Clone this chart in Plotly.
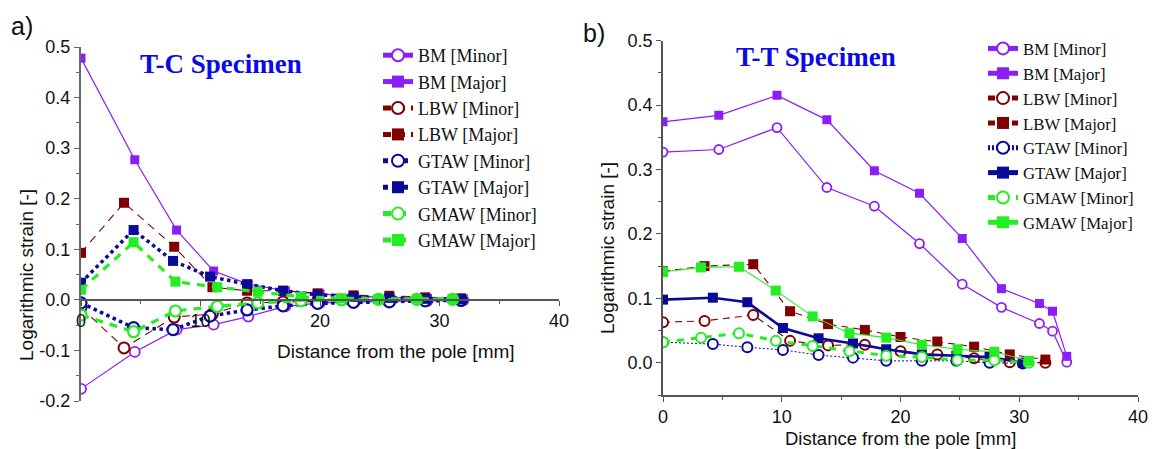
import plotly.graph_objects as go

# ---------------- Data: panel a) T-C specimen ----------------
a_bm_x = [0, 4.5, 8.0, 11.1, 14.0, 17.1, 20.0, 22.9, 25.8, 29.0, 32.0]
a_bm_minor = [-0.176, -0.103, -0.059, -0.049, -0.033, -0.013, -0.006, -0.004, -0.003, -0.002, -0.001]
a_bm_major = [0.478, 0.277, 0.138, 0.057, 0.031, 0.018, 0.012, 0.007, 0.005, 0.003, 0.002]

a_lbw_x = [0, 3.6, 7.8, 11.0, 13.9, 16.9, 19.8, 22.8, 25.8, 28.8, 31.8]
a_lbw_minor = [-0.015, -0.095, -0.034, -0.028, -0.006, -0.004, -0.003, -0.002, -0.002, -0.001, -0.001]
a_lbw_major = [0.093, 0.192, 0.105, 0.025, 0.018, 0.018, 0.013, 0.009, 0.008, 0.005, 0.003]

a_gtaw_x = [0, 4.4, 7.7, 10.8, 13.9, 16.9, 19.8, 22.8, 25.8, 28.8, 31.8]
a_gtaw_minor = [-0.006, -0.055, -0.059, -0.032, -0.020, -0.012, -0.007, -0.005, -0.004, -0.002, -0.001]
a_gtaw_major = [0.034, 0.138, 0.077, 0.046, 0.031, 0.018, 0.010, 0.006, 0.004, 0.002, 0.001]

a_gmaw_x = [0, 4.4, 7.9, 11.4, 14.8, 18.4, 21.8, 24.9, 28.1, 31.1]
a_gmaw_minor = [-0.030, -0.063, -0.022, -0.013, -0.006, -0.002, 0.000, 0.001, 0.001, 0.001]
a_gmaw_major = [0.020, 0.114, 0.036, 0.025, 0.016, 0.006, 0.003, 0.002, 0.002, 0.002]

# ---------------- Data: panel b) T-T specimen ----------------
b_bm_x = [0, 4.7, 9.6, 13.8, 17.8, 21.6, 25.2, 28.5, 31.7, 32.8, 34.0]
b_bm_minor = [0.327, 0.331, 0.365, 0.272, 0.243, 0.185, 0.122, 0.086, 0.061, 0.049, 0.001]
b_bm_major = [0.374, 0.384, 0.415, 0.377, 0.298, 0.263, 0.193, 0.115, 0.092, 0.080, 0.010]

b_lbw_x = [0, 3.5, 7.6, 10.7, 13.9, 17.0, 20.0, 23.1, 26.2, 29.2, 32.2]
b_lbw_minor = [0.063, 0.065, 0.074, 0.034, 0.027, 0.028, 0.018, 0.013, 0.007, 0.001, 0.000]
b_lbw_major = [0.142, 0.150, 0.153, 0.080, 0.060, 0.051, 0.040, 0.033, 0.025, 0.013, 0.005]

b_gtaw_x = [0, 4.2, 7.1, 10.1, 13.1, 16.0, 18.8, 21.8, 24.7, 27.5, 30.3]
b_gtaw_minor = [0.032, 0.029, 0.024, 0.020, 0.012, 0.008, 0.003, 0.003, 0.003, 0.000, -0.001]
b_gtaw_major = [0.098, 0.101, 0.094, 0.054, 0.038, 0.030, 0.021, 0.013, 0.011, 0.009, 0.000]

b_gmaw_x = [0, 3.2, 6.4, 9.5, 12.6, 15.7, 18.8, 21.8, 24.8, 27.9, 30.8]
b_gmaw_minor = [0.032, 0.039, 0.046, 0.034, 0.026, 0.018, 0.011, 0.009, 0.004, 0.004, 0.000]
b_gmaw_major = [0.141, 0.148, 0.149, 0.112, 0.072, 0.046, 0.039, 0.028, 0.021, 0.017, 0.003]

# ---------------- Tick labels ----------------
a_ytick_vals = [-0.2, -0.1, 0.0, 0.1, 0.2, 0.3, 0.4, 0.5]
a_ytick_text = ["-0.2", "-0.1", "0.0", "0.1", "0.2", "0.3", "0.4", "0.5"]
b_ytick_vals = [0.0, 0.1, 0.2, 0.3, 0.4, 0.5]
b_ytick_text = ["0.0", "0.1", "0.2", "0.3", "0.4", "0.5"]
x_tick_vals = [0, 10, 20, 30, 40]
x_tick_text = ["0", "10", "20", "30", "40"]

PURPLE = "#8B1EF5"
DARKRED = "#820000"
NAVY = "#0A0A96"
GREEN = "#22EE22"

fig = go.Figure()


def add(x, y, name, color, symbol, size, lw, dash, xa, ya, legend, mlw=2):
    if symbol == "open":
        marker = dict(symbol="circle", size=size, color="white",
                      line=dict(color=color, width=mlw))
    else:
        marker = dict(symbol=symbol, size=size, color=color, line=dict(width=0))
    fig.add_trace(go.Scatter(
        x=x, y=y, name=name, mode="lines+markers",
        line=dict(color=color, width=lw, dash=dash),
        marker=marker, xaxis=xa, yaxis=ya, legend=legend))


# panel a
add(a_bm_x, a_bm_minor, "BM [Minor]", PURPLE, "open", 10, 1.2, "solid", "x", "y", "legend", 1.8)
add(a_bm_x, a_bm_major, "BM [Major]", PURPLE, "square", 9, 1.2, "solid", "x", "y", "legend")
add(a_lbw_x, a_lbw_minor, "LBW [Minor]", DARKRED, "open", 11, 1.1, "8px,6px", "x", "y", "legend")
add(a_lbw_x, a_lbw_major, "LBW [Major]", DARKRED, "square", 10, 1.1, "8px,6px", "x", "y", "legend")
add(a_gtaw_x, a_gtaw_minor, "GTAW [Minor]", NAVY, "open", 11, 3.5, "dot", "x", "y", "legend", 2.2)
add(a_gtaw_x, a_gtaw_major, "GTAW [Major]", NAVY, "square", 10, 3.5, "dot", "x", "y", "legend")
add(a_gmaw_x, a_gmaw_minor, "GMAW [Minor]", GREEN, "open", 11, 3.2, "8px,7px", "x", "y", "legend", 2.2)
add(a_gmaw_x, a_gmaw_major, "GMAW [Major]", GREEN, "square", 10, 3.2, "8px,7px", "x", "y", "legend")

# panel b
add(b_bm_x, b_bm_minor, "BM [Minor]", PURPLE, "open", 9, 1.2, "solid", "x2", "y2", "legend2", 1.8)
add(b_bm_x, b_bm_major, "BM [Major]", PURPLE, "square", 9, 1.2, "solid", "x2", "y2", "legend2")
add(b_lbw_x, b_lbw_minor, "LBW [Minor]", DARKRED, "open", 10, 1.1, "7px,5px", "x2", "y2", "legend2")
add(b_lbw_x, b_lbw_major, "LBW [Major]", DARKRED, "square", 10, 1.1, "7px,5px", "x2", "y2", "legend2")
add(b_gtaw_x, b_gtaw_minor, "GTAW [Minor]", NAVY, "open", 10, 1.0, "2px,2px", "x2", "y2", "legend2")
add(b_gtaw_x, b_gtaw_major, "GTAW [Major]", NAVY, "square", 10, 2.6, "solid", "x2", "y2", "legend2")
add(b_gmaw_x, b_gmaw_minor, "GMAW [Minor]", GREEN, "open", 10, 3.0, "7px,7px", "x2", "y2", "legend2")
add(b_gmaw_x, b_gmaw_major, "GMAW [Major]", GREEN, "square", 10, 1.1, "solid", "x2", "y2", "legend2")

# The page body has an 8px margin: the figure starts at (8, 8) in the window.
OFF = 8
W, H = 1163 - OFF, 449 - OFF


def px(x):  # window pixel x -> paper fraction
    return (x - OFF) / W


def py(y):  # window pixel y -> paper fraction
    return 1 - (y - OFF) / H


TICKFONT = dict(family="Liberation Sans, Arial", size=18, color="#111")
AXCOL = "#555"

xa_dom = [px(81), px(559)]
ya_dom = [py(401), py(47)]
xb_dom = [px(663), px(1138)]
yb_dom = [py(395), py(40.6)]
zero_a = ya_dom[0] + (ya_dom[1] - ya_dom[0]) * (0.2 / 0.7)

common_x = dict(range=[0, 40], tickvals=x_tick_vals, ticktext=x_tick_text,
                showgrid=False, zeroline=False, showline=True, linecolor=AXCOL,
                linewidth=1.5, ticks="outside", ticklen=5, tickwidth=1.3, tickcolor=AXCOL,
                tickfont=TICKFONT,
                minor=dict(tickvals=[5, 15, 25, 35], ticklen=3, tickcolor=AXCOL, ticks="outside", showgrid=False))

fig.update_layout(
    width=W, height=H, margin=dict(l=0, r=0, t=0, b=0, pad=0, autoexpand=False),
    paper_bgcolor="white", plot_bgcolor="white", showlegend=True,
    xaxis=dict(domain=xa_dom, anchor="free", position=zero_a, **common_x),
    yaxis=dict(domain=ya_dom, anchor="x", range=[-0.2, 0.5], tickvals=a_ytick_vals,
               ticktext=a_ytick_text, showgrid=False, zeroline=False, showline=True,
               linecolor="#666", linewidth=2, ticks="outside", ticklen=5, tickwidth=1.3,
               tickcolor="#666", tickfont=TICKFONT,
               minor=dict(dtick=0.05, tick0=0, ticklen=3, tickcolor="#666", ticks="outside", showgrid=False)),
    xaxis2=dict(domain=xb_dom, anchor="y2", **common_x),
    yaxis2=dict(domain=yb_dom, anchor="x2", range=[-0.05, 0.5], tickvals=b_ytick_vals,
                ticktext=b_ytick_text, showgrid=False, zeroline=False, showline=True,
                linecolor=AXCOL, linewidth=1.5, ticks="outside", ticklen=5, tickwidth=1.3,
                tickcolor=AXCOL, tickfont=TICKFONT,
                minor=dict(dtick=0.05, tick0=0, ticklen=3, tickcolor=AXCOL, ticks="outside", showgrid=False)),
    legend=dict(x=px(378), y=py(37), xanchor="left", yanchor="top",
                font=dict(family="Liberation Serif, Times New Roman", size=18, color="#111"),
                bgcolor="rgba(0,0,0,0)", itemsizing="constant", tracegroupgap=0),
    legend2=dict(x=px(983), y=py(31), xanchor="left", yanchor="top",
                 font=dict(family="Liberation Serif, Times New Roman", size=16.8, color="#111"),
                 bgcolor="rgba(0,0,0,0)", itemsizing="constant", tracegroupgap=0),
)

ann = []


def A(text, x, y, size, family="Liberation Sans, Arial", color="#111", angle=0, bold=False):
    t = "<b>" + text + "</b>" if bold else text
    ann.append(dict(text=t, x=px(x), y=py(y), xref="paper", yref="paper",
                    xanchor="center", yanchor="middle", showarrow=False, textangle=angle,
                    font=dict(family=family, size=size, color=color)))


A("a)", 22, 26, 25)
A("b)", 594, 33, 25)
A("T-C Specimen", 221, 64, 27, family="Liberation Serif, Times New Roman", color="#0A0AE6", bold=True)
A("T-T Specimen", 816, 57, 27, family="Liberation Serif, Times New Roman", color="#0A0AE6", bold=True)
A("Logarithmic strain [-]", 26, 275, 19, angle=-90)
A("Logarithmic strain [-]", 607, 248, 19, angle=-90)
A("Distance from the pole [mm]", 396, 351, 19)
A("Distance from the pole [mm]", 900, 438, 18.5)
fig.update_layout(annotations=ann)

fig.write_html("out.html")
